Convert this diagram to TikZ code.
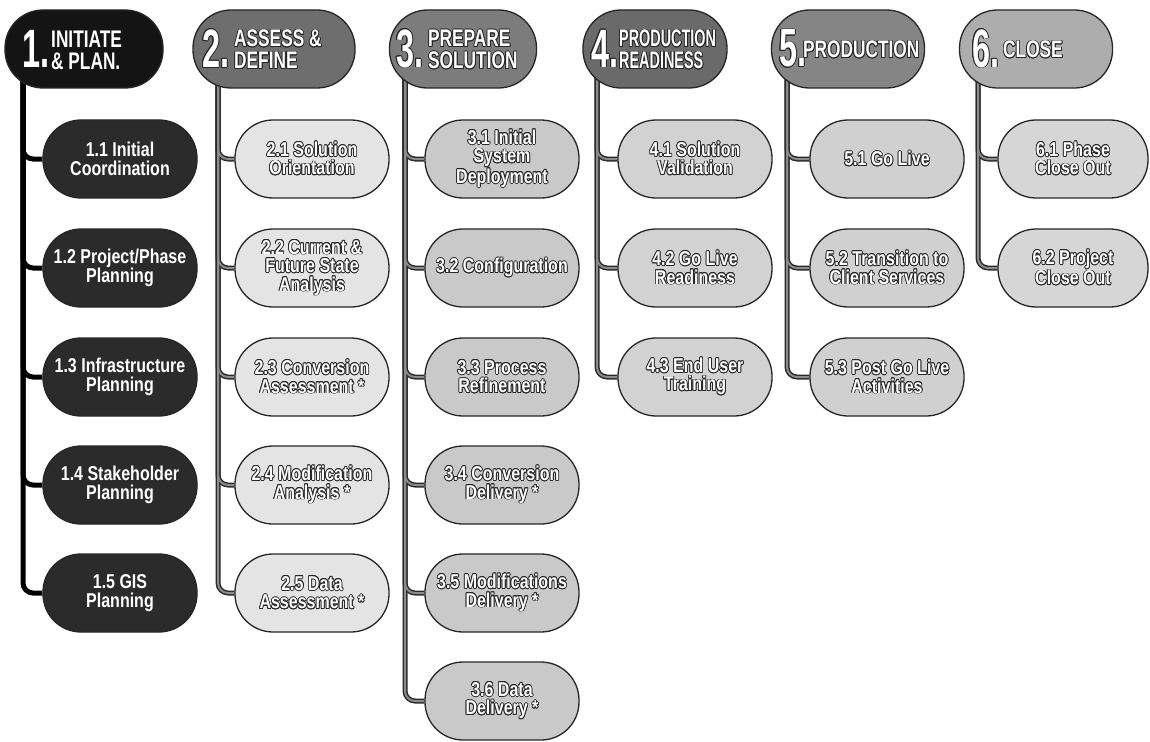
\documentclass[tikz,border=0pt]{standalone}
\usepackage{fontspec}
\setmainfont{Liberation Sans}[FakeStretch=0.8]
\newfontfamily\hdrfont{Liberation Sans}[FakeStretch=0.72]
\newfontfamily\hdrnarrow{Liberation Sans}[FakeStretch=0.6]
\newfontfamily\numfont{Liberation Sans}[FakeStretch=0.6]
\usepackage{contour}
\contourlength{0.8pt}
\contournumber{12}
\usetikzlibrary{calc}
\pgfdeclarelayer{back}
\pgfdeclarelayer{bg}
\pgfsetlayers{back,bg,main}
\newcommand{\ol}[1]{\contour{black!85}{#1}}
\definecolor{hA}{HTML}{141414}
\definecolor{sA}{HTML}{2B2B2B}
\definecolor{hB}{HTML}{6E6E6E}
\definecolor{sB}{HTML}{E4E4E4}
\definecolor{hC}{HTML}{7C7C7C}
\definecolor{sC}{HTML}{C9C9C9}
\definecolor{hD}{HTML}{6A6A6A}
\definecolor{sD}{HTML}{D2D2D2}
\definecolor{hE}{HTML}{858585}
\definecolor{sE}{HTML}{D0D0D0}
\definecolor{hF}{HTML}{ADADAD}
\definecolor{sF}{HTML}{D6D6D6}
\definecolor{lineout}{HTML}{2A2A2A}
\definecolor{linein}{HTML}{8C8C8C}
\begin{document}
\begin{tikzpicture}[x=1pt,y=-1pt,
  pill/.style={draw=black!85, line width=1.3pt, rounded corners=38pt,
    minimum height=78pt, inner sep=0pt, text=white, align=center,
    font=\fontsize{20}{18.5}\selectfont\bfseries},
  subbox/.style={pill, minimum width=154pt},
  hdrbox/.style={pill},
  numtxt/.style={anchor=west, inner sep=0pt, text=white,
    font=\fontsize{54}{54}\numfont\bfseries},
  lbltxt/.style={anchor=west, inner sep=0pt, text=white, align=left,
    font=\fontsize{24}{22}\hdrfont\bfseries},
  connout/.style={draw=lineout, line width=5pt, rounded corners=10pt},
  connin/.style={draw=linein, line width=2pt, rounded corners=10pt},
]
\useasboundingbox (0,0) rectangle (1150,741);
\begin{pgfonlayer}{back}
\fill[white] (0,0) rectangle (1150,741);
\end{pgfonlayer}

% headers
\node[hdrbox, fill=hA, minimum width=158pt] (h1) at (84,49) {};
\node[hdrbox, fill=hB, minimum width=162pt] (h2) at (274,49) {};
\node[hdrbox, fill=hC, minimum width=147pt] (h3) at (463,49) {};
\node[hdrbox, fill=hD, minimum width=144pt] (h4) at (655,49) {};
\node[hdrbox, fill=hE, minimum width=153pt] (h5) at (848,49) {};
\node[hdrbox, fill=hF, minimum width=153pt] (h6) at (1036,49) {};

\node[numtxt] (n1) at (22,49) {1.};
\node[lbltxt] (l1) at (51,50) {INITIATE\\\& PLAN.};
\node[numtxt] (n2) at (202,49) {\ol{2.}};
\node[lbltxt] (l2) at (234,50) {\ol{ASSESS \&}\\\ol{DEFINE}};
\node[numtxt] (n3) at (396,49) {\ol{3.}};
\node[lbltxt] (l3) at (428,50) {\ol{PREPARE}\\\ol{SOLUTION}};
\node[numtxt] (n4) at (591,49) {\ol{4.}};
\node[lbltxt, font=\fontsize{24}{22}\hdrnarrow\bfseries] (l4) at (619,50) {\ol{PRODUCTION}\\\ol{READINESS}};
\node[numtxt] (n5) at (779,49) {\ol{5.}};
\node[lbltxt] (l5) at (803,50) {\ol{PRODUCTION}};
\node[numtxt] (n6) at (972,49) {\ol{6.}};
\node[lbltxt] (l6) at (1003,50) {\ol{CLOSE}};

% column 1
\node[subbox, fill=sA] (s11) at (120,159) {1.1 Initial\\Coordination};
\node[subbox, fill=sA] (s12) at (120,268) {1.2 Project/Phase\\Planning};
\node[subbox, fill=sA] (s13) at (120,377) {1.3 Infrastructure\\Planning};
\node[subbox, fill=sA] (s14) at (120,485) {1.4 Stakeholder\\Planning};
\node[subbox, fill=sA] (s15) at (120,593) {1.5 GIS\\Planning};
% column 2
\node[subbox, fill=sB] (s21) at (312,159) {\ol{2.1 Solution}\\\ol{Orientation}};
\node[subbox, fill=sB] (s22) at (312,268) {\ol{2.2 Current \&}\\\ol{Future State}\\\ol{Analysis}};
\node[subbox, fill=sB] (s23) at (312,377) {\ol{2.3 Conversion}\\\ol{Assessment *}};
\node[subbox, fill=sB] (s24) at (312,485) {\ol{2.4 Modification}\\\ol{Analysis *}};
\node[subbox, fill=sB] (s25) at (312,593) {\ol{2.5 Data}\\\ol{Assessment *}};
% column 3
\node[subbox, fill=sC] (s31) at (502,159) {\ol{3.1 Initial}\\\ol{System}\\\ol{Deployment}};
\node[subbox, fill=sC] (s32) at (502,268) {\ol{3.2 Configuration}};
\node[subbox, fill=sC] (s33) at (502,377) {\ol{3.3 Process}\\\ol{Refinement}};
\node[subbox, fill=sC] (s34) at (502,485) {\ol{3.4 Conversion}\\\ol{Delivery *}};
\node[subbox, fill=sC] (s35) at (502,593) {\ol{3.5 Modifications}\\\ol{Delivery *}};
\node[subbox, fill=sC] (s36) at (502,701) {\ol{3.6 Data}\\\ol{Delivery *}};
% column 4
\node[subbox, fill=sD] (s41) at (695,159) {\ol{4.1 Solution}\\\ol{Validation}};
\node[subbox, fill=sD] (s42) at (695,268) {\ol{4.2 Go Live}\\\ol{Readiness}};
\node[subbox, fill=sD] (s43) at (695,377) {\ol{4.3 End User}\\\ol{Training}};
% column 5
\node[subbox, fill=sE] (s51) at (887,159) {\ol{5.1 Go Live}};
\node[subbox, fill=sE] (s52) at (887,268) {\ol{5.2 Transition to}\\\ol{Client Services}};
\node[subbox, fill=sE] (s53) at (887,377) {\ol{5.3 Post Go Live}\\\ol{Activities}};
% column 6
\node[subbox, fill=sF, minimum width=150pt] (s61) at (1073,159) {\ol{6.1 Phase}\\\ol{Close Out}};
\node[subbox, fill=sF, minimum width=150pt] (s62) at (1073,268) {\ol{6.2 Project}\\\ol{Close Out}};

% trunk tops
\coordinate (t1) at (23,70);
\coordinate (t2) at (218,70);
\coordinate (t3) at (405,70);
\coordinate (t4) at (597,70);
\coordinate (t5) at (787,70);
\coordinate (t6) at (978,70);

\begin{pgfonlayer}{bg}
  \foreach \t/\c in {t1/s11,t1/s12,t1/s13,t1/s14,t1/s15}
    \draw[connout, draw=black] (\t) |- (\c.west);
  \foreach \t/\c in {t2/s21,t2/s22,t2/s23,t2/s24,t2/s25,
                     t3/s31,t3/s32,t3/s33,t3/s34,t3/s35,t3/s36,
                     t4/s41,t4/s42,t4/s43,
                     t5/s51,t5/s52,t5/s53,
                     t6/s61,t6/s62}
    \draw[connout] (\t) |- (\c.west);
  \foreach \t/\c in {t2/s21,t2/s22,t2/s23,t2/s24,t2/s25,
                     t3/s31,t3/s32,t3/s33,t3/s34,t3/s35,t3/s36,
                     t4/s41,t4/s42,t4/s43,
                     t5/s51,t5/s52,t5/s53,
                     t6/s61,t6/s62}
    \draw[connin] (\t) |- (\c.west);
\end{pgfonlayer}
\end{tikzpicture}
\end{document}
